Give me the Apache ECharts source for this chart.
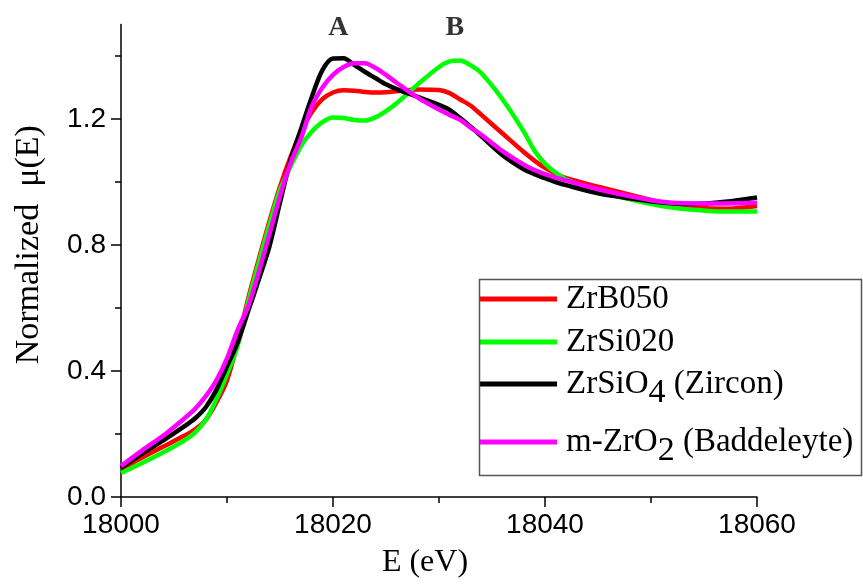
<!DOCTYPE html>
<html><head><meta charset="utf-8">
<script src="https://cdn.jsdelivr.net/npm/echarts@6/dist/echarts.min.js"></script>
<style>html,body{margin:0;padding:0;background:#fff}#c{width:863px;height:584px}</style>
</head><body><div id="c"></div><script>
// ---- data ----
const energy = [18000,18002,18004,18006,18007,18008,18009,18010,18011,18012,18013,18014,18015,18016,18017,18018,18019,18020,18021,18022,18023,18024,18025,18026,18028,18030,18031,18032,18033,18034,18036,18038,18039,18040,18041,18042,18045,18048,18051,18054,18057,18060];
const muZrB050 = [0.089,0.125,0.16,0.195,0.215,0.245,0.30,0.37,0.49,0.63,0.755,0.875,0.985,1.08,1.16,1.222,1.263,1.284,1.291,1.29,1.286,1.284,1.285,1.288,1.294,1.292,1.282,1.262,1.242,1.213,1.154,1.095,1.068,1.045,1.027,1.012,0.985,0.96,0.935,0.92,0.915,0.924];
const muZrSi020 = [0.076,0.108,0.142,0.18,0.205,0.245,0.31,0.39,0.48,0.62,0.745,0.865,0.975,1.05,1.115,1.16,1.19,1.205,1.203,1.197,1.195,1.205,1.225,1.25,1.31,1.365,1.383,1.386,1.37,1.345,1.262,1.16,1.10,1.058,1.03,1.008,0.972,0.945,0.924,0.912,0.906,0.906];
const muZircon = [0.092,0.138,0.18,0.225,0.25,0.285,0.34,0.415,0.49,0.59,0.69,0.795,0.935,1.07,1.17,1.27,1.355,1.392,1.393,1.372,1.35,1.33,1.31,1.295,1.27,1.245,1.229,1.203,1.175,1.145,1.085,1.04,1.025,1.012,1.0,0.99,0.964,0.948,0.935,0.93,0.937,0.951];
const muBaddeleyte = [0.098,0.148,0.195,0.25,0.28,0.32,0.37,0.44,0.53,0.605,0.715,0.835,0.955,1.06,1.14,1.24,1.30,1.34,1.365,1.377,1.377,1.362,1.34,1.315,1.268,1.23,1.213,1.197,1.172,1.15,1.098,1.055,1.038,1.025,1.014,1.005,0.977,0.955,0.937,0.932,0.932,0.934];
const seriesNames = ['ZrB050','ZrSi020','ZrSiO4 (Zircon)','m-ZrO2 (Baddeleyte)'];
const legendLabels = ['ZrB050','ZrSi020','ZrSiO{s|4} (Zircon)','m-ZrO{s|2} (Baddeleyte)'];
const seriesColors = ['#ff0000','#00ff00','#000000','#ff00ff'];
const yMajorTicks = [0, 0.4, 0.8, 1.2];
const yMinorTicks = [0.2, 0.6, 1.0, 1.4];
const peakX = [18020.5, 18031.5];
const peakY = [1.49, 1.49];
const peakLabels = ['A', 'B'];

const allSeriesValues = [muZrB050, muZrSi020, muZircon, muBaddeleyte];

const chart = echarts.init(document.getElementById('c'), null, {renderer:'canvas'});
const sans = '"Liberation Sans", Arial, sans-serif';
const serif = '"Liberation Serif", "Times New Roman", serif';

const lineSeries = seriesNames.map((name, k) => ({
  name, type: 'line', xAxisIndex: 0, yAxisIndex: 0,
  data: energy.map((e, i) => [e, allSeriesValues[k][i]]),
  showSymbol: false, symbol: 'none', smooth: 0.3,
  lineStyle: {color: seriesColors[k], width: 4.5},
  itemStyle: {color: seriesColors[k]},
  z: 2 + k
}));

const legendTops = [281, 324, 358, 416];
const legends = seriesNames.map((name, k) => ({
  data: [name], orient: 'vertical', left: 480, top: legendTops[k], padding: 0,
  icon: 'rect', itemWidth: 77, itemHeight: 5, selectedMode: false,
  formatter: () => legendLabels[k],
  textStyle: {fontFamily: serif, fontSize: 33, color: '#000', lineHeight: 36, padding: [0,0,0,4],
    rich: {s: {fontFamily: serif, fontSize: 34, lineHeight: 52, verticalAlign: 'bottom', color: '#000'}}}
}));

const option = {
  animation: false,
  backgroundColor: '#fff',
  grid: {left: 121, right: 106, top: 24.5, bottom: 87},
  legend: legends,
  xAxis: [{
    type: 'value', min: 18000, max: 18060, interval: 20,
    name: 'E (eV)', nameLocation: 'middle', nameGap: 50,
    nameTextStyle: {fontFamily: serif, fontSize: 32, color: '#000', padding: [0, 28, 0, 0]},
    axisLine: {show: true, onZero: false, lineStyle: {color: '#000', width: 1.5}},
    axisTick: {show: true, length: 10, lineStyle: {color: '#000', width: 1.5}},
    minorTick: {show: true, splitNumber: 2, length: 6, lineStyle: {color: '#000', width: 1.5}},
    axisLabel: {fontFamily: sans, fontSize: 28, color: '#000', margin: 14, formatter: v => String(v)},
    splitLine: {show: false}
  }],
  yAxis: [{
    type: 'value', min: 0, max: 1.5, position: 'left',
    name: 'Normalized  μ(E)', nameLocation: 'middle', nameGap: 75, nameRotate: 90,
    nameTextStyle: {fontFamily: serif, fontSize: 34, color: '#000', padding: [0, 0, 0, 32]},
    axisLine: {show: true, onZero: false, lineStyle: {color: '#000', width: 1.5}},
    axisTick: {show: true, length: 10, customValues: yMajorTicks, lineStyle: {color: '#000', width: 1.5}},
    axisLabel: {fontFamily: sans, fontSize: 28, color: '#000', margin: 15, customValues: yMajorTicks,
      formatter: v => v.toFixed(1)},
    splitLine: {show: false}
  }, {
    type: 'value', min: 0, max: 1.5, position: 'left', offset: 0,
    axisLine: {show: false},
    axisTick: {show: true, length: 6, customValues: yMinorTicks, lineStyle: {color: '#000', width: 1.5}},
    axisLabel: {show: false},
    splitLine: {show: false}
  }],
  series: lineSeries.concat([{
    name: 'peaks', type: 'scatter', xAxisIndex: 0, yAxisIndex: 0,
    data: peakX.map((x, i) => ({value: [x, peakY[i]], name: peakLabels[i]})),
    symbolSize: 0, silent: true,
    label: {show: true, position: 'inside', formatter: p => p.name,
      fontFamily: serif, fontWeight: 'bold', fontSize: 28, color: '#000'}
  }]),
  graphic: [{
    type: 'rect', shape: {x: 479.5, y: 279.5, width: 382, height: 196},
    style: {fill: 'none', stroke: '#555', lineWidth: 1.5}, z: 100, silent: true
  }]
};
chart.setOption(option);
</script></body></html>
